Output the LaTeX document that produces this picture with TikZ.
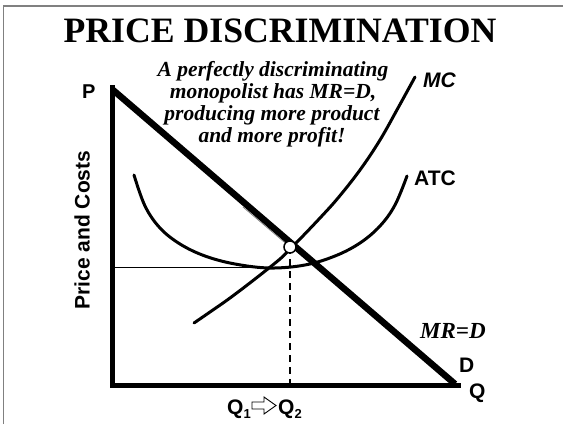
\documentclass[tikz,border=0pt]{standalone}
\usepackage{fontspec}
\setmainfont{Liberation Serif}
\setsansfont{Liberation Sans}
\begin{document}
\begin{tikzpicture}[x=1pt,y=-1pt,
  lab/.style={font=\sffamily\bfseries\fontsize{21}{21}\selectfont, inner sep=0pt},
  note/.style={font=\bfseries\itshape\fontsize{21.5}{22}\selectfont, inner sep=0pt, anchor=base},
  axis/.style={line width=5pt},
  curve/.style={line width=3pt, line cap=round},
  demand/.style={line width=6.5pt},
  frame/.style={draw=gray, line width=1.5pt}
]
\useasboundingbox (0,0) rectangle (563,424);
% frame
\draw[frame] (3.5,424) -- (3.5,6) -- (563,6);
% title
\node[anchor=base, inner sep=0pt, font=\bfseries\fontsize{35.7}{36}\selectfont] (title) at (280,42) {PRICE DISCRIMINATION};
% note
\node[note] (n1) at (273,76) {A perfectly discriminating};
\node[note] (n2) at (273,98) {monopolist has MR=D,};
\node[note] (n3) at (272,120) {producing more product};
\node[note] (n4) at (272,142) {and more profit!};
% axes
\coordinate (top) at (112,85);
\coordinate (origin) at (112,385);
\coordinate (qend) at (461,385);
\draw[axis] (top) -- (origin) -- (qend);
% thin line and dashed line
\coordinate (pmin) at (112,267);
\coordinate (eq) at (290,247);
\coordinate (eqh) at (290,267);
\coordinate (eqb) at (290,383);
\draw[line width=0.9pt] (pmin) -- (eqh);
\draw[line width=1.8pt, dash pattern=on 7pt off 5pt] (eq) -- (eqb);
% ATC
\draw[curve] plot[smooth, tension=0.6] coordinates {(134,175) (145,206) (160,228) (180,244) (205,256) (235,264) (270,268) (305,265) (335,256) (360,243) (380,226) (395,205) (407,176)};
% MC
\draw[curve] plot[smooth, tension=0.6] coordinates {(194,323) (210,312) (230,298) (255,279) (280,259) (290,249) (300,239) (320,218) (338,198) (360,170) (380,140) (398,108) (415,77)};
% demand
\coordinate (dtop) at (113,90);
\coordinate (dbot) at (455,384);
\coordinate (mrs) at (243,207);
\draw[demand] (dtop) -- (dbot);
\draw[gray, line width=0.8pt] (mrs) -- (eq);
% equilibrium circle
\node[circle, draw, fill=white, line width=1.5pt, minimum size=12pt, inner sep=0pt] (eqc) at (eq) {};
% labels
\node[lab, anchor=base west, font=\sffamily\bfseries\fontsize{20}{20}\selectfont] (P) at (82,98) {P};
\node[lab, anchor=base west, font=\sffamily\bfseries\itshape\fontsize{21}{21}\selectfont] (MC) at (423,87) {MC};
\node[lab, anchor=base west] (ATC) at (414,185) {ATC};
\node[anchor=base west, inner sep=0pt, font=\bfseries\itshape\fontsize{23}{23}\selectfont] (MRD) at (420,338) {MR=D};
\node[lab, anchor=base west] (D) at (459,372) {D};
\node[lab, anchor=base west] (Q) at (469,398) {Q};
\node[lab, rotate=90] (yl) at (82,230) {Price and Costs};
\node[lab, anchor=base east] (Q1) at (251,414) {Q\raisebox{-4pt}{\fontsize{13}{13}\selectfont 1}};
\node[lab, anchor=base west] (Q2) at (278,414) {Q\raisebox{-4pt}{\fontsize{13}{13}\selectfont 2}};
\draw[line width=0.9pt, fill=white] (252,402) -- (264,402) -- (264,397) -- (276,405.5) -- (264,414) -- (264,409) -- (252,409) -- cycle;
\end{tikzpicture}
\end{document}
